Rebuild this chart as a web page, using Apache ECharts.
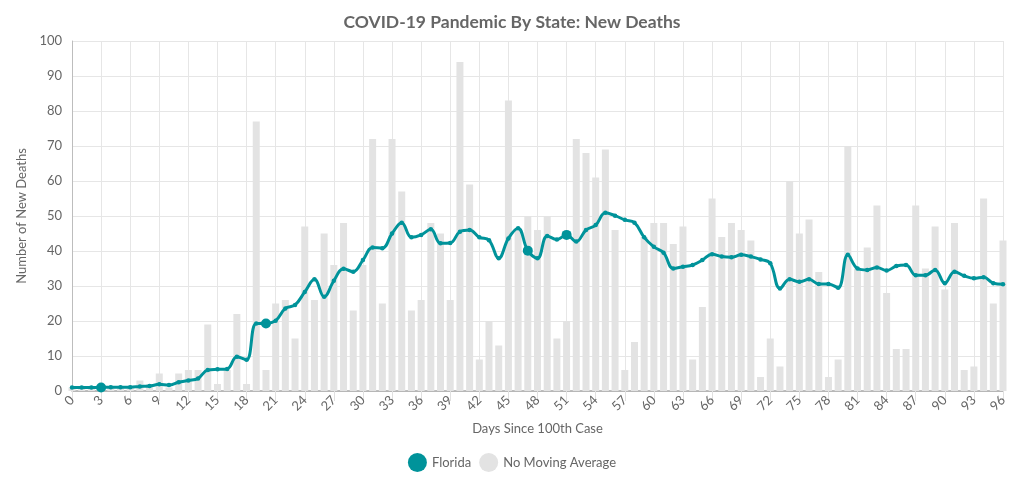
<!DOCTYPE html>
<html>
<head>
<meta charset="utf-8">
<title>COVID-19 Pandemic By State: New Deaths</title>
<script src="https://cdn.jsdelivr.net/npm/echarts@6/dist/echarts.min.js"></script>
<style>
  html, body { margin: 0; padding: 0; background: #fff; }
  #chart { width: 1024px; height: 484px; }
</style>
</head>
<body>
<div id="chart"></div>
<script>
// days since 100th case
var days = ['0','1','2','3','4','5','6','7','8','9','10','11','12','13','14','15','16','17','18','19',
  '20','21','22','23','24','25','26','27','28','29','30','31','32','33','34','35','36','37','38','39',
  '40','41','42','43','44','45','46','47','48','49','50','51','52','53','54','55','56','57','58','59',
  '60','61','62','63','64','65','66','67','68','69','70','71','72','73','74','75','76','77','78','79',
  '80','81','82','83','84','85','86','87','88','89','90','91','92','93','94','95','96'];

// new deaths per day (bars)
var dailyDeaths = [1,1,1,1,1,1,1,3,2,5,1,5,6,6,19,2,6,22,2,77,
  6,25,26,15,47,26,45,36,48,23,36,72,25,72,57,23,26,48,45,26,
  94,59,9,20,13,83,46,50,46,50,15,20,72,68,61,69,46,6,14,44,
  48,48,42,47,9,24,55,44,48,46,43,4,15,7,60,45,49,34,4,9,
  70,35,41,53,28,12,12,53,35,47,29,48,6,7,55,25,43];

// Florida, moving average (line)
var florida = [1,1,1,1,1.1,1.1,1.1,1.3,1.4,1.9,1.7,2.5,3,3.6,6,6.2,6.3,9.8,8.9,19.3,
  19.3,20.1,23.6,24.6,28.3,31.9,26.9,31.5,34.9,34.1,37.4,41,40.8,45,48.1,43.9,44.6,46.2,42.2,42.3,
  45.5,46,43.9,43.1,37.9,43.6,46.5,40.1,37.9,44.3,43.3,44.6,42.7,46,47.4,50.9,50.1,48.9,48.1,43.9,
  41.2,39.5,35,35.5,36,37.4,39.1,38.4,38.2,38.9,38.4,37.6,36.5,29.3,31.9,31.2,31.9,30.6,30.6,29.5,
  38.9,35,34.6,35.3,34.4,35.7,36,33.1,33.1,34.6,30.8,34.1,32.9,32.2,32.5,30.8,30.5];

// points drawn with a bigger dot
var bigDots = [3, 20, 47, 51];

var yTicks = [0, 10, 20, 30, 40, 50, 60, 70, 80, 90, 100];

var teal = '#00939a';
var gray = '#e3e3e3';
var textColor = '#666';
var font = 'Lato, "Open Sans", sans-serif';

var chart = echarts.init(document.getElementById('chart'));

var option = {
  animation: false,
  title: {
    text: 'COVID-19 Pandemic By State: New Deaths',
    left: 'center',
    top: 8,
    textStyle: {
      fontFamily: font,
      fontSize: 17.5,
      fontWeight: 'bold',
      color: textColor
    }
  },
  legend: {
    data: ['Florida', 'No Moving Average'],
    top: 448,
    left: 'center',
    icon: 'circle',
    itemWidth: 19,
    itemHeight: 19,
    itemGap: 8,
    textStyle: {
      fontFamily: font,
      fontSize: 13,
      color: textColor
    }
  },
  grid: {
    left: 72,
    right: 21,
    top: 41,
    bottom: 93,
    containLabel: false
  },
  xAxis: {
    type: 'category',
    data: days,
    boundaryGap: false,
    name: 'Days Since 100th Case',
    nameLocation: 'middle',
    nameGap: 31,
    nameTextStyle: {
      fontFamily: font,
      fontSize: 13,
      color: textColor
    },
    axisLine: { lineStyle: { color: '#a8a8a8', width: 1.5 } },
    axisTick: { interval: 2, length: 10, lineStyle: { color: '#e0e0e0' } },
    splitLine: { show: true, interval: 2, lineStyle: { color: '#e6e6e6' } },
    axisLabel: {
      interval: 2,
      rotate: 45,
      margin: 7,
      fontFamily: font,
      fontSize: 13,
      color: textColor
    }
  },
  yAxis: {
    type: 'value',
    min: yTicks[0],
    max: yTicks[yTicks.length - 1],
    interval: 10,
    name: 'Number of New Deaths',
    nameLocation: 'middle',
    nameGap: 43,
    nameTextStyle: {
      fontFamily: font,
      fontSize: 13,
      color: textColor
    },
    axisLine: { show: true, lineStyle: { color: '#bdbdbd' } },
    axisTick: { show: false },
    splitLine: { lineStyle: { color: '#e6e6e6' } },
    axisLabel: {
      margin: 10,
      fontFamily: font,
      fontSize: 13,
      color: textColor
    }
  },
  series: [
    {
      name: 'No Moving Average',
      type: 'bar',
      data: dailyDeaths,
      barWidth: 7,
      itemStyle: { color: gray },
      clip: true,
      z: 1
    },
    {
      name: 'Florida',
      type: 'line',
      data: florida,
      smooth: 0.4,
      symbol: 'circle',
      symbolSize: function (val, params) {
        return bigDots.indexOf(params.dataIndex) >= 0 ? 10 : 4.5;
      },
      showAllSymbol: true,
      lineStyle: { color: teal, width: 3 },
      itemStyle: { color: teal },
      z: 3
    }
  ]
};

chart.setOption(option);
</script>
</body>
</html>
